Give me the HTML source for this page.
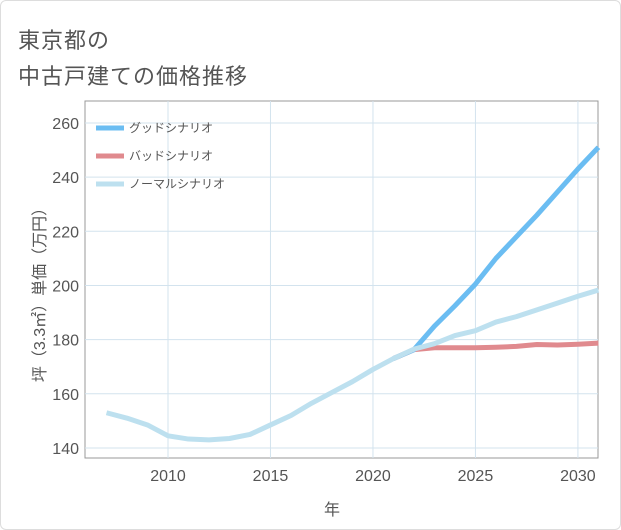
<!DOCTYPE html>
<html><head><meta charset="utf-8"><style>
body{margin:0;background:#fff;font-family:"Liberation Sans","Noto Sans CJK JP",sans-serif;}
#wrap{position:relative;width:619px;height:528px;border:1px solid #ddd;border-radius:6px;overflow:hidden;}
.t{position:absolute;left:17px;font-size:22px;color:#555;letter-spacing:1px;}
</style></head><body>
<div id="wrap">
<div class="t" style="top:22px">東京都の</div>
<div class="t" style="top:58px">中古戸建ての価格推移</div>
<svg id="chart" width="621" height="530" style="position:absolute;left:0;top:0"></svg>
</div>
<script>
const years=[2007,2008,2009,2010,2011,2012,2013,2014,2015,2016,2017,2018,2019,2020,2021,2022,2023,2024,2025,2026,2027,2028,2029,2030,2031];
const normalVals=[153,151,148.5,144.5,143.3,143,143.5,145,148.5,152,156.5,160.5,164.5,169,173,176.5,178.5,181.5,183.3,186.5,188.5,191,193.5,196,198.3];
const goodYears=[2021,2022,2023,2024,2025,2026,2027,2028,2029,2030,2031];
const goodVals=[173,176.3,185,192.5,200.5,210,218,226,234.5,243,251];
const badYears=[2021,2022,2023,2024,2025,2026,2027,2028,2029,2030,2031];
const badVals=[173,176.3,177,177,177,177.2,177.5,178.2,178,178.3,178.7];
const xTicks=[2010,2015,2020,2025,2030];
const yTicks=[140,160,180,200,220,240,260];
const L=84,R=597,T=100,B=457,x0=2005.95,x1=2030.98,y0=136.3,y1=268.1;
const X=v=>L+(v-x0)/(x1-x0)*(R-L), Y=v=>B-(v-y0)/(y1-y0)*(B-T);
const svg=document.getElementById('chart'),NS='http://www.w3.org/2000/svg';
function mk(tag,at,name,txt){const e=document.createElementNS(NS,tag);for(const k in at)e.setAttribute(k,at[k]);


if(txt)e.textContent=txt;svg.appendChild(e);return e;}
mk('rect',{x:L,y:T,width:R-L,height:B-T,fill:'#fff',stroke:'#999','stroke-width':1},'plot-area');
xTicks.forEach(t=>{mk('line',{x1:X(t),x2:X(t),y1:T,y2:B,stroke:'#d3e3ee','stroke-width':1},'x-gridline');
mk('text',{x:X(t),y:B+23,'text-anchor':'middle','font-size':16,fill:'#555'},'x-tick-label',t);});
yTicks.forEach(t=>{mk('line',{x1:L,x2:R,y1:Y(t),y2:Y(t),stroke:'#d3e3ee','stroke-width':1},'y-gridline');
mk('text',{x:L-6,y:Y(t)+6,'text-anchor':'end','font-size':16,fill:'#555'},'y-tick-label',t);});
function line(xs,vs,c,name){mk('polyline',{points:xs.map((x,i)=>X(x)+','+Y(vs[i])).join(' '),fill:'none',stroke:c,'stroke-width':5,'stroke-linejoin':'round'},name);}
line(badYears,badVals,'#e08a8e','bad-scenario-line');
line(goodYears,goodVals,'#6bbdf2','good-scenario-line');
line(years,normalVals,'#bde0ef','normal-scenario-line');
[['グッドシナリオ','#6bbdf2'],['バッドシナリオ','#e08a8e'],['ノーマルシナリオ','#bde0ef']].forEach((d,i)=>{
const y=127+i*28;mk('line',{x1:95,x2:123,y1:y,y2:y,stroke:d[1],'stroke-width':5},'legend-swatch');
mk('text',{x:128,y:y+4,'font-size':12,fill:'#555'},'legend-label',d[0]);});
mk('text',{x:331,y:514,'text-anchor':'middle','font-size':16,fill:'#555'},'x-axis-title','年');
mk('text',{x:0,y:0,transform:'translate(44,290) rotate(-90)','text-anchor':'middle','font-size':16,fill:'#555'},'y-axis-title','坪（3.3㎡）単価（万円）');
</script>
</body></html>
